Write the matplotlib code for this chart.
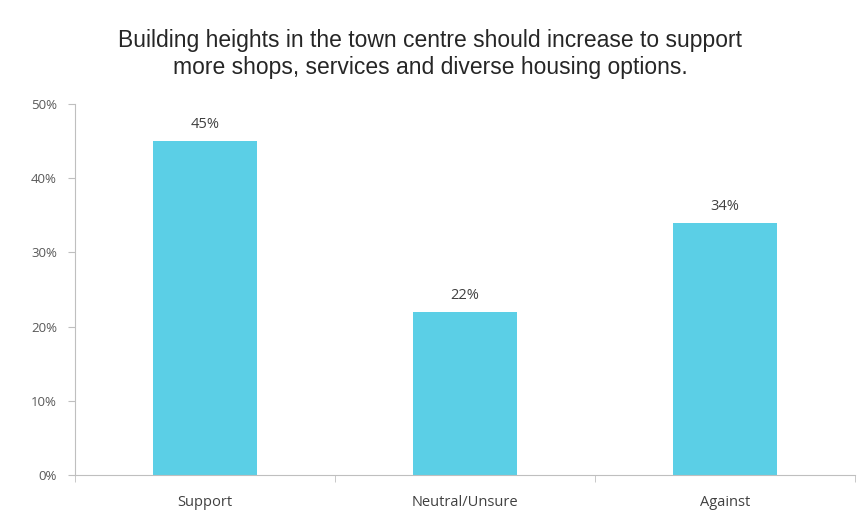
import matplotlib.pyplot as plt
from matplotlib.ticker import PercentFormatter

# Survey responses
categories = ['Support', 'Neutral/Unsure', 'Against']
shares = [0.45, 0.22, 0.34]
yticks = [0, 0.1, 0.2, 0.3, 0.4, 0.5]

fig = plt.figure(figsize=(8.66, 5.25), dpi=100)
ax = fig.add_axes([0.0866, 0.095, 0.9004, 0.707])

x = range(len(categories))
bars = ax.bar(x, shares, width=0.4, color='#5BCFE6')

for b, v in zip(bars, shares):
    ax.text(b.get_x() + b.get_width() / 2, v + 0.012, f'{v:.0%}',
            ha='center', va='bottom', fontsize=10.5, color='#404040',
            family='Open Sans')

ax.set_xlim(-0.5, len(categories) - 0.5)
ax.set_ylim(0, 0.5)
ax.set_yticks(yticks)
ax.yaxis.set_major_formatter(PercentFormatter(1.0, decimals=0))

# category labels centred, ticks at the boundaries between them
ax.set_xticks(list(x))
ax.set_xticklabels(categories, family='Open Sans', fontsize=10.5, color='#404040')
ax.set_xticks([i - 0.5 for i in range(len(categories) + 1)], minor=True)
ax.tick_params(axis='x', which='major', length=0, pad=14)
ax.tick_params(axis='x', which='minor', length=5, color='#bfbfbf', direction='out')
ax.tick_params(axis='y', length=5, color='#bfbfbf', labelsize=9.5,
               labelcolor='#595959', pad=8)
for lab in ax.get_yticklabels():
    lab.set_family('Open Sans')

for side in ['top', 'right']:
    ax.spines[side].set_visible(False)
ax.spines['left'].set_color('#bfbfbf')
ax.spines['bottom'].set_color('#bfbfbf')

fig.text(0.497, 0.897,
         'Building heights in the town centre should increase to support\n'
         'more shops, services and diverse housing options.',
         ha='center', va='center', fontsize=16.5, color='#262626',
         family='Liberation Sans', linespacing=1.2)

fig.savefig('out.png', dpi=100)
